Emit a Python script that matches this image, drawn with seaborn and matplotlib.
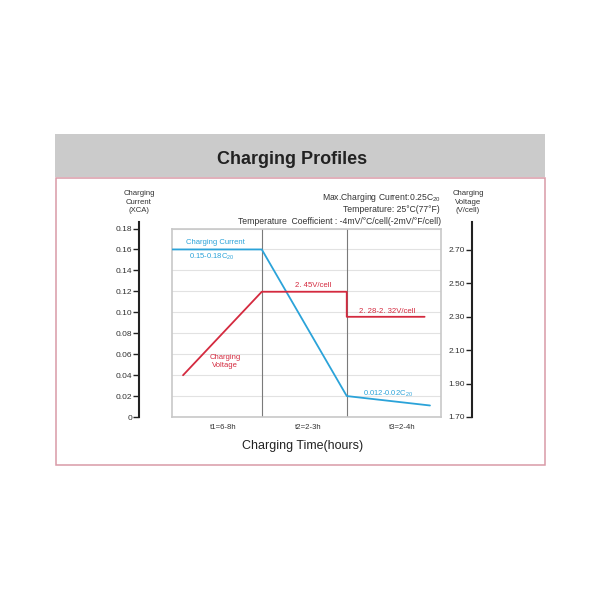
import matplotlib
matplotlib.use("Agg")
import matplotlib.pyplot as plt
from matplotlib.patches import Rectangle
import seaborn as sns

# charging profile data (x in arbitrary time units, stage dividers at 1.0 and 1.95)
time_current = [0.0, 1.0, 1.95, 2.88]
current = [0.16, 0.16, 0.02, 0.011]
time_voltage = [0.12, 1.0, 1.95, 1.95, 2.82]
voltage = [1.95, 2.45, 2.45, 2.30, 2.30]

stage_dividers = [1.0, 1.95]
stage_pos = [0.57, 1.52, 2.57]
stage_labels = ["t1=6-8h", "t2=2-3h", "t3=2-4h"]

current_ticks = [0, 0.02, 0.04, 0.06, 0.08, 0.10, 0.12, 0.14, 0.16, 0.18]
current_ticklabels = ["0", "0.02", "0.04", "0.06", "0.08", "0.10", "0.12", "0.14", "0.16", "0.18"]
voltage_ticks = [1.70, 1.90, 2.10, 2.30, 2.50, 2.70]

BLUE = "#2ba3d9"
RED = "#d42a3f"

sns.set_style("white")
plt.rcParams["font.family"] = ["Liberation Sans", "DejaVu Sans"]
plt.rcParams["mathtext.fontset"] = "custom"
plt.rcParams["mathtext.rm"] = "Liberation Sans"
plt.rcParams["mathtext.it"] = "Liberation Sans:italic"

W = H = 600.0
fig = plt.figure(figsize=(6, 6), dpi=100)
fig.patch.set_facecolor("white")

def px(x, y):
    return x / W, 1 - y / H

# header band and frame
fig.patches.append(Rectangle(px(55, 177), 490 / W, 42.5 / H, transform=fig.transFigure,
                             facecolor="#cbcbcb", edgecolor="none", zorder=0))
fig.patches.append(Rectangle(px(55.5, 464.7), 489 / W, 287 / H, transform=fig.transFigure,
                             facecolor="none", edgecolor="#d99aa7", lw=1.1, zorder=0))
fig.text(*px(292, 160), "Charging Profiles", ha="center", va="center",
         fontsize=13, fontweight="bold", color="#222222")

# main plot area
left, right, top, bottom = 172.3, 440.7, 228.5, 417.0
ax = fig.add_axes([left / W, 1 - bottom / H, (right - left) / W, (bottom - top) / H])
vmin = 1.70
vmax = 1.70 + (bottom - top) / 33.4 * 0.2

sns.lineplot(x=time_current, y=current, ax=ax, color=BLUE, lw=1.3,
             estimator=None, sort=False, zorder=3)

axv = ax.twinx()
sns.lineplot(x=time_voltage, y=voltage, ax=axv, color=RED, lw=1.3,
             estimator=None, sort=False, zorder=3)
axv.set_ylim(vmin, vmax)
axv.set_xlim(0, 3)
axv.axis("off")

ax.set_xlim(0, 3)
ax.set_ylim(0, 0.18)
ax.set_yticks(current_ticks)
ax.yaxis.grid(True, color="#e2e2e2", lw=0.8)
ax.set_axisbelow(True)
ax.tick_params(axis="y", left=False, right=False, labelleft=False, labelright=False)
ax.set_xticks(stage_pos)
ax.set_xticklabels(stage_labels, fontsize=5.6, color="#333333")
ax.tick_params(axis="x", bottom=False, pad=1.5)
ax.set_xlabel("")
ax.set_ylabel("")
for s in ax.spines.values():
    s.set_color("#c8c8c8")
    s.set_linewidth(1.2)
for d in stage_dividers:
    ax.axvline(d, color="#7a7a7a", lw=0.8, zorder=1)

ax.text(0.477, 0.1664, "Charging Current", color=BLUE, fontsize=5.5, ha="center", va="center")
ax.text(0.444, 0.153, "0.15-0.18C$_{20}$", color=BLUE, fontsize=5.5, ha="center", va="center")
ax.text(1.569, 0.1258, "2. 45V/cell", color=RED, fontsize=5.6, ha="center", va="center")
ax.text(2.40, 0.1006, "2. 28-2. 32V/cell", color=RED, fontsize=5.6, ha="center", va="center")
ax.text(0.589, 0.0528, "Charging\nVoltage", color=RED, fontsize=5.5, ha="center", va="center",
        linespacing=1.3)
ax.text(2.411, 0.0222, "0.012-0.02C$_{20}$", color=BLUE, fontsize=5.5, ha="center", va="center")

fig.text(*px(303, 446), "Charging Time(hours)", ha="center", va="center",
         fontsize=9, color="#222222")


def scale_axis(x_px, lo, hi, top_bound, ticks, labels):
    a = fig.add_axes([x_px / W, 1 - bottom / H, 0.01, (bottom - top) / H])
    a.set_ylim(lo, hi)
    a.patch.set_visible(False)
    for k in ["top", "right", "bottom"]:
        a.spines[k].set_visible(False)
    a.spines["left"].set_color("#222222")
    a.spines["left"].set_linewidth(1.5)
    a.spines["left"].set_bounds(lo, top_bound)
    a.set_xticks([])
    a.set_yticks(ticks)
    a.set_yticklabels(labels, fontsize=6, color="#333333")
    a.tick_params(axis="y", left=True, right=False, direction="out", length=4, width=1,
                  pad=1, color="#222222")
    return a


# left scale (current)
scale_axis(139, 0, 0.18, 0.186, current_ticks, current_ticklabels)
fig.text(*px(139, 202), "Charging\nCurrent\n(XCA)", ha="center", va="center",
         fontsize=5.6, color="#333333", linespacing=1.25)

# right scale (voltage)
scale_axis(472, vmin, vmax, 2.865, voltage_ticks, [f"{v:.2f}" for v in voltage_ticks])
fig.text(*px(468, 202), "Charging\nVoltage\n(V/cell)", ha="center", va="center",
         fontsize=5.6, color="#333333", linespacing=1.25)

# test conditions
fig.text(*px(441, 197), "Max.Charging Current:0.25C$_{20}$", ha="right", va="center",
         fontsize=6.2, color="#333333")
fig.text(*px(440, 209), "Temperature: 25°C(77°F)", ha="right", va="center",
         fontsize=6.2, color="#333333")
fig.text(*px(441, 221), "Temperature  Coefficient : -4mV/°C/cell(-2mV/°F/cell)", ha="right",
         va="center", fontsize=6.2, color="#333333")

fig.savefig("out.png", dpi=100)
